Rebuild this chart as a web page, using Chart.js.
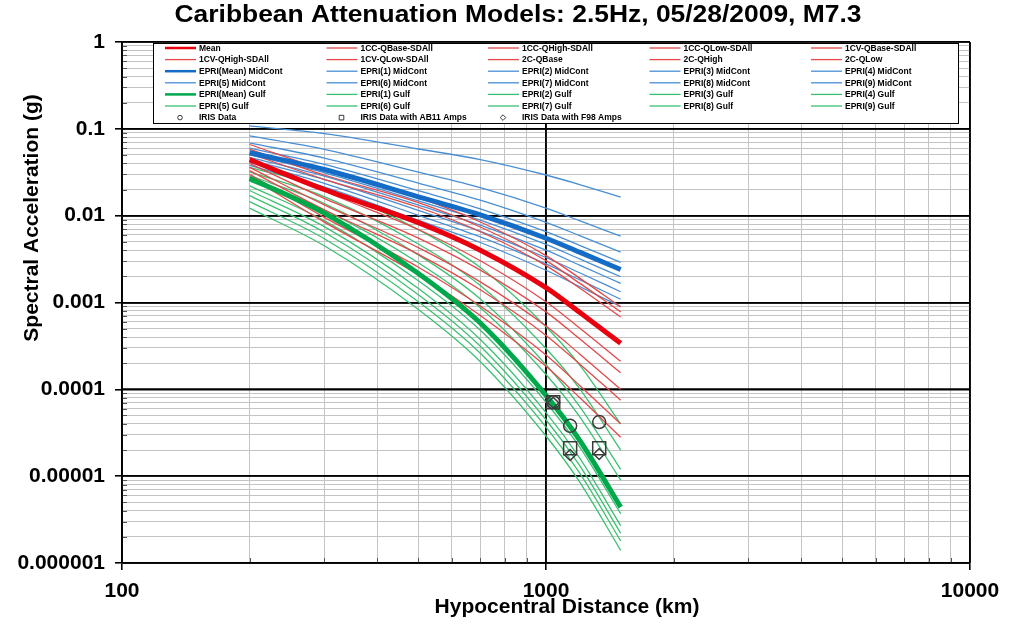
<!DOCTYPE html>
<html>
<head>
<meta charset="utf-8">
<script src="https://cdn.jsdelivr.net/npm/chart.js@4.4.1/dist/chart.umd.min.js"></script>
<style>
  html, body { margin: 0; padding: 0; background: #fff; }
  #wrap { width: 1010px; height: 625px; }
</style>
</head>
<body>
<div id="wrap"><canvas id="c" width="1010" height="625"></canvas></div>
<script>
// ---------------- DATA ----------------
const chartTitle = 'Caribbean Attenuation Models: 2.5Hz, 05/28/2009, M7.3';
const xTitle = 'Hypocentral Distance (km)';
const yTitle = 'Spectral Acceleration (g)';

const xTickValues = [100, 1000, 10000];
const xTickLabels = ['100', '1000', '10000'];
const yTickValues = [0.000001, 0.00001, 0.0001, 0.001, 0.01, 0.1, 1];
const yTickLabels = ['0.000001', '0.00001', '0.0001', '0.001', '0.01', '0.1', '1'];

// distances (km) at which the curves are sampled
const distances = [200, 300, 500, 700, 1000, 1200, 1500];

// Red group (Caribbean models)
const redNames = ['Mean', '1CC-QBase-SDAll', '1CC-QHigh-SDAll', '1CC-QLow-SDAll', '1CV-QBase-SDAll',
                  '1CV-QHigh-SDAll', '1CV-QLow-SDAll', '2C-QBase', '2C-QHigh', '2C-QLow'];
const redMean       = [0.044, 0.020, 0.0083, 0.0040, 0.00148, 0.00077, 0.00034];
const red1CCQBase   = [0.047, 0.0191, 0.00693, 0.00303, 0.00102, 0.000509, 0.00021];
const red1CCQHigh   = [0.058, 0.0294, 0.0141, 0.00741, 0.00304, 0.00167, 0.00078];
const red1CCQLow    = [0.030, 0.00957, 0.00255, 0.00091, 0.000248, 0.000111, 0.00004];
const red1CVQBase   = [0.040, 0.0158, 0.00552, 0.00236, 0.00078, 0.000382, 0.000155];
const red1CVQHigh   = [0.066, 0.0335, 0.0161, 0.00845, 0.00347, 0.00191, 0.00089];
const red1CVQLow    = [0.028, 0.00843, 0.00209, 0.00071, 0.000184, 0.0000804, 0.000028];
const red2CQBase    = [0.036, 0.0133, 0.00428, 0.00173, 0.000535, 0.000256, 0.0001];
const red2CQHigh    = [0.052, 0.0262, 0.0125, 0.00653, 0.00266, 0.00147, 0.00068];
const red2CQLow     = [0.033, 0.0117, 0.00358, 0.0014, 0.000418, 0.000196, 0.000075];

// Blue group (EPRI MidCont)
const blueNames = ['EPRI(Mean) MidCont', 'EPRI(1) MidCont', 'EPRI(2) MidCont', 'EPRI(3) MidCont', 'EPRI(4) MidCont',
                   'EPRI(5) MidCont', 'EPRI(6) MidCont', 'EPRI(7) MidCont', 'EPRI(8) MidCont', 'EPRI(9) MidCont'];
const blueMean = [0.053, 0.034, 0.0165, 0.0102, 0.0055, 0.0038, 0.0024];
const blue1    = [0.108, 0.0883, 0.0586, 0.0443, 0.0294, 0.0228, 0.0164];
const blue2    = [0.083, 0.0581, 0.0317, 0.021, 0.0122, 0.00875, 0.0058];
const blue3    = [0.069, 0.046, 0.0237, 0.0151, 0.00838, 0.0059, 0.0038];
const blue4    = [0.060, 0.039, 0.0194, 0.012, 0.00655, 0.00456, 0.0029];
const blue5    = [0.050, 0.0312, 0.0148, 0.0089, 0.00467, 0.00318, 0.00198];
const blue6    = [0.047, 0.0286, 0.0132, 0.00778, 0.0040, 0.0027, 0.00166];
const blue7    = [0.044, 0.026, 0.0115, 0.0066, 0.0033, 0.0022, 0.00133];
const blue8    = [0.041, 0.0236, 0.0101, 0.00569, 0.00278, 0.00183, 0.00109];
const blue9    = [0.038, 0.0214, 0.00887, 0.00491, 0.00235, 0.00153, 0.0009];

// Green group (EPRI Gulf)
const greenNames = ['EPRI(Mean) Gulf', 'EPRI(1) Gulf', 'EPRI(2) Gulf', 'EPRI(3) Gulf', 'EPRI(4) Gulf',
                    'EPRI(5) Gulf', 'EPRI(6) Gulf', 'EPRI(7) Gulf', 'EPRI(8) Gulf', 'EPRI(9) Gulf'];
const greenMean = [0.027, 0.0107, 0.00216, 0.00058, 0.000085, 0.000026, 0.0000044];
const green1    = [0.036, 0.021, 0.0069, 0.00253, 0.000525, 0.000191, 0.00004];
const green2    = [0.032, 0.0166, 0.00472, 0.00157, 0.000295, 0.000102, 0.00002];
const green3    = [0.029, 0.0138, 0.00354, 0.0011, 0.000192, 0.0000638, 0.000012];
const green4    = [0.025, 0.0116, 0.00287, 0.00087, 0.000148, 0.0000486, 0.000009];
const green5    = [0.022, 0.00877, 0.00178, 0.000478, 0.000071, 0.0000217, 0.0000037];
const green6    = [0.0195, 0.00748, 0.00145, 0.000375, 0.000054, 0.0000162, 0.0000027];
const green7    = [0.017, 0.00644, 0.00123, 0.000314, 0.0000446, 0.0000133, 0.0000022];
const green8    = [0.0145, 0.00543, 0.00102, 0.00026, 0.0000367, 0.0000109, 0.0000018];
const green9    = [0.0122, 0.0045, 0.00083, 0.000208, 0.000029, 0.0000086, 0.0000014];

// IRIS observations
const irisNames = ['IRIS Data', 'IRIS Data with AB11 Amps', 'IRIS Data with F98 Amps'];
const irisDist  = [1040, 1140, 1335];
const irisRaw   = [0.000071, 0.000038, 0.000042];
const irisAB11  = [0.000071, 0.000021, 0.000021];
const irisF98   = [0.000070, 0.0000175, 0.000018];

// ---------------- BUILD ----------------
const redSeries = [redMean, red1CCQBase, red1CCQHigh, red1CCQLow, red1CVQBase, red1CVQHigh, red1CVQLow, red2CQBase, red2CQHigh, red2CQLow];
const blueSeries = [blueMean, blue1, blue2, blue3, blue4, blue5, blue6, blue7, blue8, blue9];
const greenSeries = [greenMean, green1, green2, green3, green4, green5, green6, green7, green8, green9];

const colors = {
  red:   { thick: 'rgb(232,0,14)',  thin: 'rgb(228,72,72)' },
  blue:  { thick: 'rgb(20,108,198)', thin: 'rgb(72,142,212)' },
  green: { thick: 'rgb(0,168,76)',  thin: 'rgb(58,192,112)' }
};

function toPts(xs, ys) { return ys.map((y, i) => ({ x: xs[i], y: y })); }

const datasets = [];
function addGroup(names, series, col) {
  series.forEach((s, i) => {
    const thick = i === 0;
    datasets.push({
      label: names[i],
      data: toPts(distances, s),
      borderColor: thick ? col.thick : col.thin,
      backgroundColor: thick ? col.thick : col.thin,
      borderWidth: thick ? 5 : 1.3,
      pointRadius: 0,
      fill: false,
      cubicInterpolationMode: 'monotone',
      order: thick ? 0 : 1
    });
  });
}
addGroup(redNames, redSeries, colors.red);
addGroup(blueNames, blueSeries, colors.blue);
addGroup(greenNames, greenSeries, colors.green);

const irisSets = [irisRaw, irisAB11, irisF98];
const irisStyles = [['circle', 6.5], ['rect', 9.2], ['rectRot', 5.5]];
irisSets.forEach((s, i) => {
  datasets.push({
    label: irisNames[i],
    data: toPts(irisDist, s),
    showLine: false,
    pointStyle: irisStyles[i][0],
    pointRadius: irisStyles[i][1],
    pointBorderColor: '#3a3a3a',
    pointBackgroundColor: 'rgba(255,255,255,0)',
    pointBorderWidth: 1.5,
    borderColor: '#3a3a3a',
    backgroundColor: 'rgba(255,255,255,0)',
    order: -1
  });
});

function isDecade(v) {
  const l = Math.log10(v);
  return Math.abs(l - Math.round(l)) < 1e-9;
}
function logTicks(minExp, maxExp) {
  const t = [];
  for (let e = minExp; e < maxExp; e++) {
    for (let k = 1; k <= 9; k++) t.push(k * Math.pow(10, e));
  }
  t.push(Math.pow(10, maxExp));
  return t;
}
function labelFor(v, vals, labels) {
  for (let i = 0; i < vals.length; i++) {
    if (Math.abs(v / vals[i] - 1) < 1e-9) return labels[i];
  }
  return '';
}

const FONT = "'Liberation Sans', Arial, sans-serif";

// custom plugin: crisp decade lines, inner minor ticks, titles, legend box
const decor = {
  id: 'decor',
  beforeDatasetsDraw(chart) {
    const ctx = chart.ctx, a = chart.chartArea;
    const xs = chart.scales.x, ys = chart.scales.y;
    ctx.save();
    ctx.strokeStyle = '#555';
    ctx.lineWidth = 1;
    ctx.beginPath();
    xs.ticks.forEach(t => {
      if (isDecade(t.value)) return;
      const px = Math.round(xs.getPixelForValue(t.value)) + 0.5;
      ctx.moveTo(px, a.bottom); ctx.lineTo(px, a.bottom - 5);
    });
    ys.ticks.forEach(t => {
      if (isDecade(t.value)) return;
      const py = Math.round(ys.getPixelForValue(t.value)) + 0.5;
      ctx.moveTo(a.left, py); ctx.lineTo(a.left + 5, py);
    });
    ctx.stroke();
    ctx.strokeStyle = '#000';
    ctx.lineWidth = 1.6;
    ctx.beginPath();
    xs.ticks.forEach(t => {
      if (!isDecade(t.value)) return;
      const px = Math.round(xs.getPixelForValue(t.value));
      ctx.moveTo(px, a.top); ctx.lineTo(px, a.bottom);
    });
    ys.ticks.forEach(t => {
      if (!isDecade(t.value)) return;
      const py = Math.round(ys.getPixelForValue(t.value));
      ctx.moveTo(a.left, py); ctx.lineTo(a.right, py);
    });
    ctx.stroke();
    ctx.restore();
  },
  afterDatasetsDraw(chart) {
    const ctx = chart.ctx;
    ctx.save();
    const bx = 153, by = 43, bw = 805, bh = 80;
    ctx.fillStyle = '#fff';
    ctx.fillRect(bx, by, bw, bh);
    ctx.strokeStyle = '#000';
    ctx.lineWidth = 1;
    ctx.strokeRect(bx + 0.5, by + 0.5, bw, bh);
    ctx.font = 'bold 8.5px ' + FONT;
    ctx.textBaseline = 'middle';
    ctx.textAlign = 'left';
    chart.data.datasets.forEach((ds, i) => {
      const col = i % 5, row = Math.floor(i / 5);
      const x0 = 165 + col * 161.5;
      const y0 = 48 + row * 11.6;
      if (ds.showLine === false) {
        ctx.strokeStyle = ds.pointBorderColor;
        ctx.lineWidth = 1;
        const cx = x0 + 15, r = 2.3;
        ctx.beginPath();
        if (ds.pointStyle === 'circle') ctx.arc(cx, y0, r, 0, Math.PI * 2);
        else if (ds.pointStyle === 'rect') ctx.rect(cx - r, y0 - r, 2 * r, 2 * r);
        else { ctx.moveTo(cx, y0 - r - 0.5); ctx.lineTo(cx + r + 0.5, y0); ctx.lineTo(cx, y0 + r + 0.5); ctx.lineTo(cx - r - 0.5, y0); ctx.closePath(); }
        ctx.stroke();
      } else {
        ctx.strokeStyle = ds.borderColor;
        ctx.lineWidth = ds.borderWidth > 2 ? 2.5 : 1.3;
        ctx.beginPath();
        ctx.moveTo(x0, y0);
        ctx.lineTo(x0 + 31, y0);
        ctx.stroke();
      }
      ctx.fillStyle = '#000';
      ctx.fillText(ds.label, x0 + 34, y0 + 0.5);
    });
    ctx.restore();
  },
  afterDraw(chart) {
    const ctx = chart.ctx;
    ctx.save();
    ctx.fillStyle = '#000';
    ctx.textAlign = 'center';
    ctx.textBaseline = 'middle';
    ctx.font = 'bold 23px ' + FONT;
    const w = ctx.measureText(chartTitle).width;
    ctx.save();
    ctx.translate(518, 16);
    ctx.scale(687 / w, 1);
    ctx.fillText(chartTitle, 0, 0);
    ctx.restore();
    ctx.font = 'bold 21px ' + FONT;
    ctx.fillText(xTitle, 567, 607);
    ctx.translate(32, 218);
    ctx.rotate(-Math.PI / 2);
    ctx.fillText(yTitle, 0, 0);
    ctx.restore();
  }
};

const gridColor = (c) => (c.tick && isDecade(c.tick.value)) ? '#000' : '#c4c4c4';
const gridWidth = (c) => (c.tick && isDecade(c.tick.value)) ? 1.6 : 1;
const tickColor = (c) => (c.tick && isDecade(c.tick.value)) ? '#000' : 'rgba(0,0,0,0)';

new Chart(document.getElementById('c'), {
  type: 'line',
  data: { datasets: datasets },
  plugins: [decor],
  options: {
    responsive: false,
    animation: false,
    layout: { padding: { top: 42, right: 40, bottom: 0, left: 0 } },
    plugins: {
      legend: { display: false },
      title: { display: false },
      tooltip: { enabled: false }
    },
    scales: {
      x: {
        type: 'logarithmic',
        min: 100, max: 10000,
        afterBuildTicks: (s) => { s.ticks = logTicks(2, 4).map(v => ({ value: v })); },
        afterFit: (s) => { s.height = 62; },
        grid: { color: gridColor, lineWidth: gridWidth, tickColor: tickColor, tickLength: 7, drawTicks: true },
        border: { display: true, color: '#000', width: 1.6 },
        ticks: {
          autoSkip: false, maxRotation: 0, minRotation: 0, padding: 9,
          color: '#000', font: { family: FONT, size: 21, weight: 'bold' },
          callback: (v) => labelFor(v, xTickValues, xTickLabels)
        }
      },
      y: {
        type: 'logarithmic',
        min: 0.000001, max: 1,
        afterBuildTicks: (s) => { s.ticks = logTicks(-6, 0).map(v => ({ value: v })); },
        afterFit: (s) => { s.width = 122; },
        grid: { color: gridColor, lineWidth: gridWidth, tickColor: tickColor, tickLength: 7, drawTicks: true },
        border: { display: true, color: '#000', width: 1.6 },
        ticks: {
          autoSkip: false, padding: 10,
          color: '#000', font: { family: FONT, size: 21, weight: 'bold' },
          callback: (v) => labelFor(v, yTickValues, yTickLabels)
        }
      }
    }
  }
});
</script>
</body>
</html>
